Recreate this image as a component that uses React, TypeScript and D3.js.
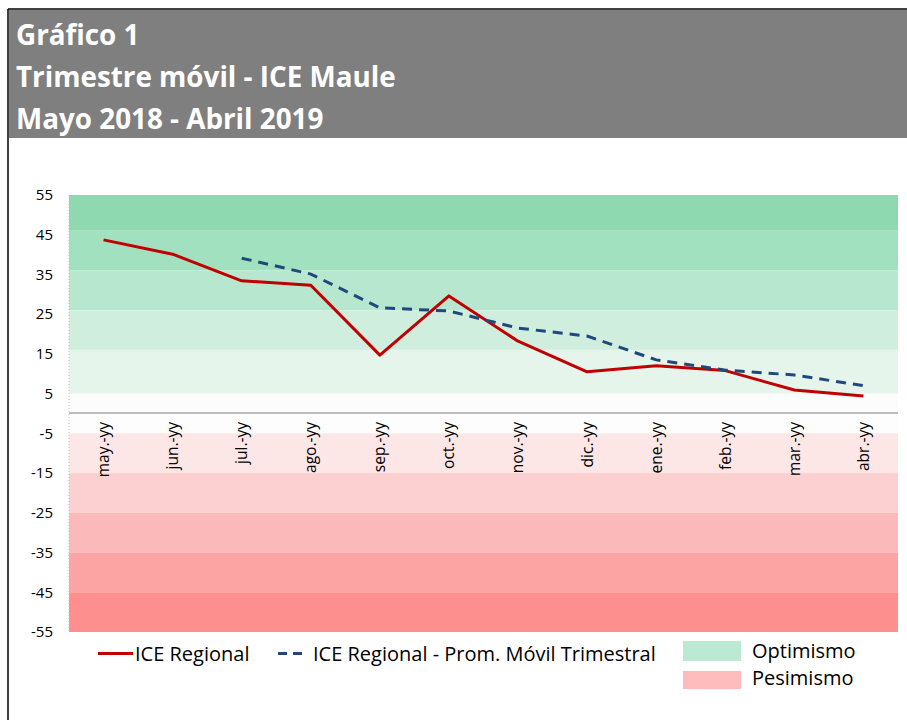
import React from "react";
import * as d3 from "d3";

// chart data
const months = ["may.-yy", "jun.-yy", "jul.-yy", "ago.-yy", "sep.-yy", "oct.-yy", "nov.-yy", "dic.-yy", "ene.-yy", "feb.-yy", "mar.-yy", "abr.-yy"];
const iceRegional = [43.7, 40.1, 33.4, 32.3, 14.7, 29.6, 18.2, 10.5, 12.0, 10.8, 5.9, 4.4];
const promMovil = [null, null, 39.1, 35.1, 26.6, 25.8, 21.5, 19.5, 13.5, 10.9, 9.7, 7.0];
const yTicks = [55, 45, 35, 25, 15, 5, -5, -15, -25, -35, -45, -55];
// background bands (from, to)
const bandEdges = [55, 46, 36, 26, 16, 5, 0, -5, -15, -25, -35, -45, -55];
const bandColors = ["#8fd9b1", "#a2e1c0", "#b8e7cf", "#d0eedd", "#e6f5ec", "#fcfcfc", "#fdfdfd", "#fde6e6", "#fcd0d0", "#fbb9b9", "#fca3a3", "#fd8f8f"];

const titleLines = ["Gráfico 1", "Trimestre móvil - ICE Maule", "Mayo 2018 - Abril 2019"];

const FONT = "'Open Sans', Lato, sans-serif";

export default function App() {
  const W = 907;
  const H = 720;
  const plot = { left: 69, right: 898, top: 195, bottom: 632 };

  const x = d3.scalePoint<string>().domain(months).range([plot.left, plot.right]).padding(0.5);
  const y = d3.scaleLinear().domain([-55, 55]).range([plot.bottom, plot.top]);

  const line = d3
    .line<number | null>()
    .defined((d) => d != null)
    .x((_, i) => x(months[i]) as number)
    .y((d) => y(d as number));

  const bands = bandColors.map((c, i) => ({ from: bandEdges[i], to: bandEdges[i + 1], color: c }));

  return (
    <svg width={W} height={H} style={{ position: "absolute", left: 0, top: 0, background: "#fff" }} fontFamily={FONT}>
      {/* frame + title box */}
      <rect x={9} y={10} width={W - 9} height={128} fill="#7f7f7f" />
      <line x1={8} x2={W} y1={9} y2={9} stroke="#000" strokeWidth={1.5} />
      <line x1={8} x2={8} y1={9} y2={H} stroke="#000" strokeWidth={1.5} />
      {titleLines.map((t, i) => (
        <text key={t} x={16} y={45 + i * 42} fill="#fff" fontSize={27.8} fontWeight="bold">
          {t}
        </text>
      ))}

      {/* bands */}
      {bands.map((b, i) => (
        <rect key={i} x={plot.left} width={plot.right - plot.left} y={y(b.from)} height={y(b.to) - y(b.from)} fill={b.color} />
      ))}
      <line x1={plot.left} x2={plot.left} y1={plot.top} y2={plot.bottom} stroke="#bfbfbf" strokeDasharray="1,2" />
      <line x1={plot.left} x2={plot.right} y1={y(0) - 0.5} y2={y(0) - 0.5} stroke="#a6a6a6" strokeWidth={1.5} />

      {/* y ticks */}
      {yTicks.map((v) => (
        <text key={v} x={53} y={y(v)} dy="0.35em" textAnchor="end" fontSize={15} fill="#000">
          {v}
        </text>
      ))}

      {/* x labels */}
      {months.map((m) => (
        <text
          key={m}
          transform={`translate(${x(m)},${422}) rotate(-90)`}
          dy="0.35em"
          textAnchor="end"
          fontSize={15.5}
          fill="#000"
        >
          {m}
        </text>
      ))}

      {/* series */}
      <path d={line(iceRegional) || ""} fill="none" stroke="#c00000" strokeWidth={3} strokeLinejoin="round" />
      <path d={line(promMovil) || ""} fill="none" stroke="#1f497d" strokeWidth={3} strokeDasharray="10,7" />

      {/* legend */}
      <line x1={98} x2={133} y1={653.5} y2={653.5} stroke="#c00000" strokeWidth={3} />
      <text x={135} y={661} fontSize={20} fill="#000">ICE Regional</text>
      <line x1={278} x2={308} y1={653.5} y2={653.5} stroke="#1f497d" strokeWidth={3} strokeDasharray="9,6" />
      <text x={313} y={661} fontSize={20} fill="#000">ICE Regional - Prom. Móvil Trimestral</text>
      <rect x={683} y={641} width={58} height={20} fill="#bbe9d1" />
      <text x={752} y={658} fontSize={20} fill="#000">Optimismo</text>
      <rect x={683} y={671} width={58} height={18} fill="#ffbcbc" />
      <text x={752} y={685} fontSize={20} fill="#000">Pesimismo</text>
    </svg>
  );
}
